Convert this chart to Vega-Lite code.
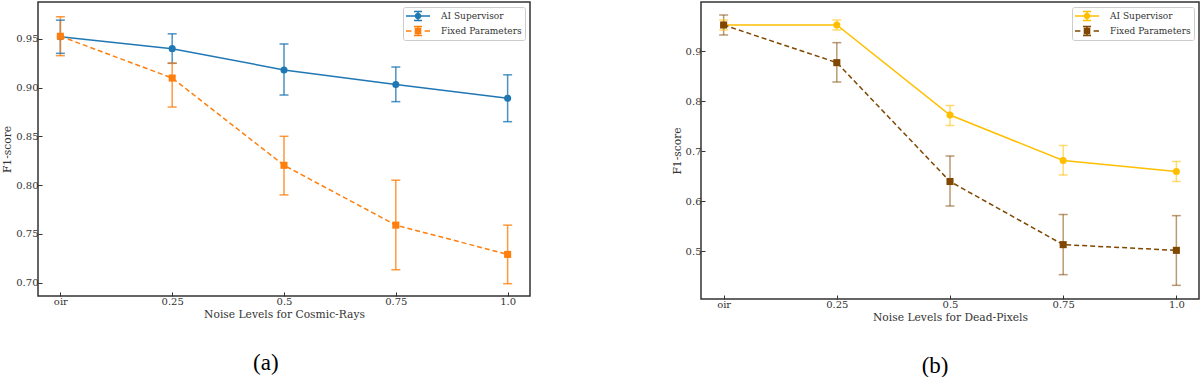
{
  "$schema": "https://vega.github.io/schema/vega-lite/v6.json",
  "background": "white",
  "padding": {"left": 0, "top": 1, "right": 2, "bottom": 0},
  "spacing": 139,
  "config": {
    "view": {"stroke": "#333333", "strokeWidth": 1.5},
    "font": "DejaVu Serif",
    "axis": {
      "domain": false, "grid": false,
      "tickSize": -4, "tickColor": "#333333", "tickWidth": 1,
      "labelFont": "DejaVu Serif", "labelFontSize": 10, "labelColor": "#333333", "labelPadding": 4,
      "titleFont": "DejaVu Serif", "titleFontSize": 10.7, "titleColor": "#333333", "titleFontWeight": "normal"
    },
    "legend": {
      "orient": "top-right", "offset": 5, "padding": 3, "fillColor": "white", "strokeColor": "#cccccc",
      "cornerRadius": 2, "rowPadding": 3, "labelFont": "DejaVu Serif", "labelFontSize": 9,
      "labelColor": "#333333", "symbolSize": 144, "symbolOffset": 6, "labelOffset": 17, "symbolOpacity": 1,
      "symbolStrokeWidth": 0
    },
    "title": {"orient": "bottom", "anchor": "middle", "frame": "bounds", "font": "Liberation Serif", "fontSize": 23, "fontWeight": "normal", "color": "black", "offset": 33}
  },
  "resolve": {
    "scale": {"color": "independent", "shape": "independent", "x": "independent", "y": "independent"},
    "legend": {"color": "independent", "shape": "independent"}
  },
  "datasets": {
    "cr": [
      {"noise": "oir", "method": "AI Supervisor", "f1": 0.952, "lo": 0.935, "hi": 0.969},
      {"noise": "0.25", "method": "AI Supervisor", "f1": 0.9398, "lo": 0.9248, "hi": 0.955},
      {"noise": "0.5", "method": "AI Supervisor", "f1": 0.918, "lo": 0.8923, "hi": 0.9446},
      {"noise": "0.75", "method": "AI Supervisor", "f1": 0.903, "lo": 0.8855, "hi": 0.921},
      {"noise": "1.0", "method": "AI Supervisor", "f1": 0.889, "lo": 0.865, "hi": 0.913},
      {"noise": "oir", "method": "Fixed Parameters", "f1": 0.9525, "lo": 0.9326, "hi": 0.9725},
      {"noise": "0.25", "method": "Fixed Parameters", "f1": 0.9097, "lo": 0.880, "hi": 0.925},
      {"noise": "0.5", "method": "Fixed Parameters", "f1": 0.8203, "lo": 0.790, "hi": 0.850},
      {"noise": "0.75", "method": "Fixed Parameters", "f1": 0.759, "lo": 0.7133, "hi": 0.805},
      {"noise": "1.0", "method": "Fixed Parameters", "f1": 0.729, "lo": 0.699, "hi": 0.759}
    ],
    "dp": [
      {"noise": "oir", "method": "AI Supervisor", "f1": 0.952, "lo": 0.942, "hi": 0.962},
      {"noise": "0.25", "method": "AI Supervisor", "f1": 0.952, "lo": 0.942, "hi": 0.962},
      {"noise": "0.5", "method": "AI Supervisor", "f1": 0.772, "lo": 0.751, "hi": 0.791},
      {"noise": "0.75", "method": "AI Supervisor", "f1": 0.681, "lo": 0.652, "hi": 0.711},
      {"noise": "1.0", "method": "AI Supervisor", "f1": 0.659, "lo": 0.639, "hi": 0.679},
      {"noise": "oir", "method": "Fixed Parameters", "f1": 0.952, "lo": 0.932, "hi": 0.972},
      {"noise": "0.25", "method": "Fixed Parameters", "f1": 0.8767, "lo": 0.838, "hi": 0.9167},
      {"noise": "0.5", "method": "Fixed Parameters", "f1": 0.639, "lo": 0.590, "hi": 0.690},
      {"noise": "0.75", "method": "Fixed Parameters", "f1": 0.5127, "lo": 0.4527, "hi": 0.573},
      {"noise": "1.0", "method": "Fixed Parameters", "f1": 0.5013, "lo": 0.4313, "hi": 0.5707}
    ]
  },
  "hconcat": [
    {
      "width": 492, "height": 294,
      "data": {"name": "cr"},
      "title": {"text": "(a)"},
      "encoding": {
        "x": {"field": "noise", "type": "ordinal", "sort": ["oir", "0.25", "0.5", "0.75", "1.0"],
              "scale": {"type": "point", "padding": 0.2}, "title": "Noise Levels for Cosmic-Rays",
              "axis": {"labelAngle": 0, "titlePadding": 3}},
        "y": {"field": "f1", "type": "quantitative", "title": "F1-score",
              "scale": {"domain": [0.6864, 0.9876], "nice": false, "zero": false},
              "axis": {"values": [0.70, 0.75, 0.80, 0.85, 0.90, 0.95], "format": ".2f", "titlePadding": 3}},
        "color": {"field": "method", "type": "nominal", "title": null,
                  "scale": {"domain": ["AI Supervisor", "Fixed Parameters"], "range": ["#1f77b4", "#ff7f0e"]}}
      },
      "layer": [
        {"mark": {"type": "rule", "strokeWidth": 1.5, "strokeOpacity": 0.8},
         "encoding": {"y": {"field": "lo", "type": "quantitative"}, "y2": {"field": "hi"}}},
        {"mark": {"type": "tick", "orient": "horizontal", "size": 9, "thickness": 1.5, "fillOpacity": 0.8},
         "encoding": {"y": {"field": "lo", "type": "quantitative"}}},
        {"mark": {"type": "tick", "orient": "horizontal", "size": 9, "thickness": 1.5, "fillOpacity": 0.8},
         "encoding": {"y": {"field": "hi", "type": "quantitative"}}},
        {"transform": [{"filter": "datum.method === 'AI Supervisor'"}],
         "mark": {"type": "line", "strokeWidth": 1.5}},
        {"transform": [{"filter": "datum.method === 'Fixed Parameters'"}],
         "mark": {"type": "line", "strokeWidth": 1.5, "strokeDash": [5, 3]}},
        {"transform": [{"filter": "datum.method === 'AI Supervisor'"}],
         "mark": {"type": "point", "shape": "circle", "filled": true, "opacity": 1, "size": 50}},
        {"transform": [{"filter": "datum.method === 'Fixed Parameters'"}],
         "mark": {"type": "point", "shape": "square", "filled": true, "opacity": 1, "size": 50}},
        {"mark": {"type": "point", "filled": true, "opacity": 0, "size": 144},
         "encoding": {
           "shape": {"field": "method", "type": "nominal", "title": null,
                     "scale": {"domain": ["AI Supervisor", "Fixed Parameters"],
                               "range": ["M-2,-0.125H2V0.125H-2Z M-0.125,-0.75H0.125V0.75H-0.125Z M-0.67,-0.875H0.67V-0.625H-0.67Z M-0.67,0.625H0.67V0.875H-0.67Z M0.55,0A0.55,0.55,0,1,1,-0.55,0A0.55,0.55,0,1,1,0.55,0Z",
                                         "M-2,-0.125H-1.1V0.125H-2Z M1.1,-0.125H2V0.125H1.1Z M-0.125,-0.75H0.125V0.75H-0.125Z M-0.67,-0.875H0.67V-0.625H-0.67Z M-0.67,0.625H0.67V0.875H-0.67Z M-0.55,-0.55H0.55V0.55H-0.55Z"]}}
         }}
      ]
    },
    {
      "width": 498, "height": 297,
      "data": {"name": "dp"},
      "title": {"text": "(b)"},
      "encoding": {
        "x": {"field": "noise", "type": "ordinal", "sort": ["oir", "0.25", "0.5", "0.75", "1.0"],
              "scale": {"type": "point", "padding": 0.2}, "title": "Noise Levels for Dead-Pixels",
              "axis": {"labelAngle": 0, "titlePadding": 3}},
        "y": {"field": "f1", "type": "quantitative", "title": "F1-score",
              "scale": {"domain": [0.404, 0.998], "nice": false, "zero": false},
              "axis": {"values": [0.5, 0.6, 0.7, 0.8, 0.9], "format": ".1f", "titlePadding": 3}},
        "color": {"field": "method", "type": "nominal", "title": null,
                  "scale": {"domain": ["AI Supervisor", "Fixed Parameters"], "range": ["#ffbf00", "#7f4700"]}}
      },
      "layer": [
        {"mark": {"type": "rule", "strokeWidth": 1.5, "strokeOpacity": 0.55},
         "encoding": {"y": {"field": "lo", "type": "quantitative"}, "y2": {"field": "hi"}}},
        {"mark": {"type": "tick", "orient": "horizontal", "size": 9, "thickness": 1.5, "fillOpacity": 0.55},
         "encoding": {"y": {"field": "lo", "type": "quantitative"}}},
        {"mark": {"type": "tick", "orient": "horizontal", "size": 9, "thickness": 1.5, "fillOpacity": 0.55},
         "encoding": {"y": {"field": "hi", "type": "quantitative"}}},
        {"transform": [{"filter": "datum.method === 'AI Supervisor'"}],
         "mark": {"type": "line", "strokeWidth": 1.5}},
        {"transform": [{"filter": "datum.method === 'Fixed Parameters'"}],
         "mark": {"type": "line", "strokeWidth": 1.5, "strokeDash": [5, 3]}},
        {"transform": [{"filter": "datum.method === 'AI Supervisor'"}],
         "mark": {"type": "point", "shape": "circle", "filled": true, "opacity": 1, "size": 50}},
        {"transform": [{"filter": "datum.method === 'Fixed Parameters'"}],
         "mark": {"type": "point", "shape": "square", "filled": true, "opacity": 1, "size": 50}},
        {"mark": {"type": "point", "filled": true, "opacity": 0, "size": 144},
         "encoding": {
           "shape": {"field": "method", "type": "nominal", "title": null,
                     "scale": {"domain": ["AI Supervisor", "Fixed Parameters"],
                               "range": ["M-2,-0.125H2V0.125H-2Z M-0.125,-0.75H0.125V0.75H-0.125Z M-0.67,-0.875H0.67V-0.625H-0.67Z M-0.67,0.625H0.67V0.875H-0.67Z M0.55,0A0.55,0.55,0,1,1,-0.55,0A0.55,0.55,0,1,1,0.55,0Z",
                                         "M-2,-0.125H-1.1V0.125H-2Z M1.1,-0.125H2V0.125H1.1Z M-0.125,-0.75H0.125V0.75H-0.125Z M-0.67,-0.875H0.67V-0.625H-0.67Z M-0.67,0.625H0.67V0.875H-0.67Z M-0.55,-0.55H0.55V0.55H-0.55Z"]}}
         }}
      ]
    }
  ]
}
